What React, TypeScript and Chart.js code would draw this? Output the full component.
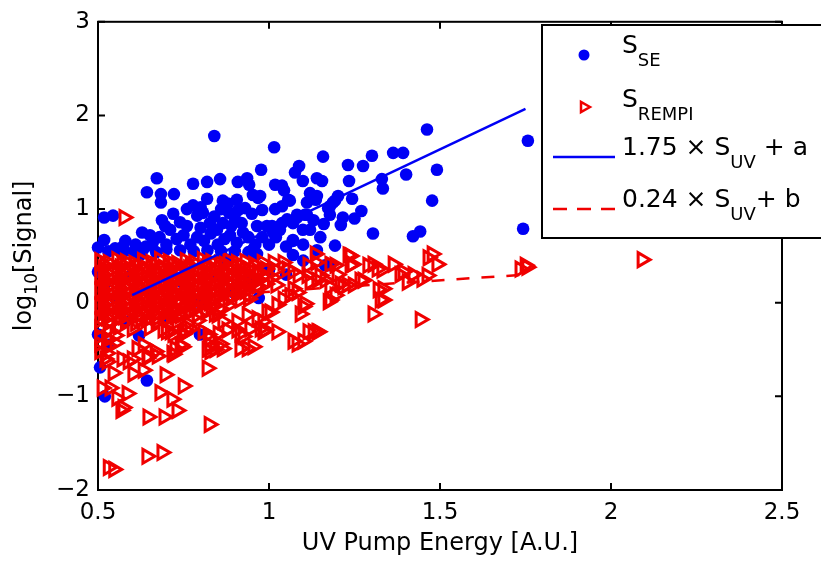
import React, { useEffect, useRef } from 'react';
import { Chart, registerables } from 'chart.js';

Chart.register(...registerables);

const FONT = '"DejaVu Sans", "Liberation Sans", Arial, sans-serif';
const BLUE = '#0000f5';
const RED = '#f00000';

const xTicks = [0.5, 1, 1.5, 2, 2.5];
const yTicks = [-2, -1, 0, 1, 2, 3];
const xTitle = 'UV Pump Energy [A.U.]';

// S_SE measurements (x, log10 signal)
const seData: [number, number][] = [
  [0.84,1.78],[1.015,1.66],[1.158,1.56],[0.977,1.42],[1.076,1.39],[1.088,1.46],[0.672,1.33],[0.778,1.27],[0.819,1.29],[0.857,1.32],
  [0.909,1.29],[0.936,1.33],[0.942,1.26],[0.643,1.18],[0.684,1.16],[0.722,1.16],[0.684,1.07],[0.819,1.11],[0.518,0.91],[0.544,0.93],
  [0.778,1.04],[0.865,1.09],[0.906,1.10],[0.93,1.01],[0.883,0.96],[0.953,1.15],[0.968,1.12],[1.018,1.26],[1.038,1.25],[1.044,1.20],
  [1.099,1.30],[1.14,1.33],[1.155,1.30],[1.12,1.17],[1.14,1.14],[1.018,1.00],[1.056,1.10],[1.038,1.03],[1.082,0.94],[1.111,0.94],
  [1.178,1.03],[1.193,1.09],[0.518,0.67],[0.573,0.60],[0.629,0.75],[0.652,0.72],[0.687,0.88],[0.696,0.82],[0.711,0.78],[0.76,0.82],
  [0.79,0.93],[0.807,0.96],[0.827,0.85],[0.848,0.78],[0.865,0.85],[0.886,0.72],[0.906,0.64],[0.924,0.75],[0.98,0.99],[1.009,0.82],
  [1.038,0.85],[1.07,0.67],[1.099,0.78],[1.12,0.78],[0.953,0.57],[0.965,0.52],[1.193,0.61],[0.602,0.54],[0.623,0.51],[0.877,0.46],
  [0.50,0.33],[1.462,1.85],[1.757,1.73],[1.301,1.57],[1.363,1.60],[1.392,1.60],[1.231,1.47],[1.275,1.46],[1.491,1.42],[1.401,1.37],
  [1.234,1.30],[1.33,1.32],[1.333,1.22],[1.137,1.10],[1.111,1.07],[0.974,1.14],[1.061,1.09],[1.477,1.09],[1.202,1.14],[1.187,1.07],
  [1.173,1.01],[1.178,0.94],[1.243,1.11],[1.216,0.91],[1.105,0.94],[1.304,0.74],[1.421,0.71],[1.442,0.76],[1.743,0.79],[0.965,0.82],
  [0.994,0.82],[1.012,0.75],[1.032,0.78],[1.053,0.89],[1.07,0.85],[1.082,0.91],[1.07,0.66],[1.07,0.51],[1.14,0.56],[1.178,0.40],
  [1.164,0.40],[0.506,-0.69],[0.52,-1.0],[0.643,-0.83],[0.798,-0.34],[0.50,0.59],[0.50,-0.34],
  [0.66,0.64],[0.68,0.70],[0.70,0.62],[0.73,0.68],[0.74,0.86],[0.75,0.72],[0.77,0.62],[0.79,0.70],[0.80,0.80],[0.81,0.66],
  [0.83,0.74],[0.84,0.92],[0.85,0.62],[0.87,0.68],[0.89,0.82],[0.90,0.90],[0.92,0.85],[0.94,0.70],[0.95,0.95],[0.96,0.62],
  [0.98,0.70],[1.00,0.62],[1.02,0.70],[0.72,0.95],[0.76,1.00],[0.80,1.02],[0.86,1.00],[0.88,1.06],[0.91,0.99],[0.58,0.66],
  [0.61,0.62],[0.64,0.60],[0.55,0.58],[0.53,0.55],[0.57,0.52],[0.63,0.56],[0.67,0.54],[0.70,0.57],[0.74,0.56],[0.78,0.55],
  [0.82,0.56],[0.86,0.55],[0.90,0.55],[0.94,0.54],[1.05,0.60],[1.10,0.62],[1.15,0.70],[1.16,0.84],[1.13,0.88],[1.25,0.90],
  [1.27,0.98],[1.21,0.83],[0.52,0.20],[0.55,0.05],[0.58,-0.2],[0.6,0.3],[0.65,0.1],[0.7,-0.15],[0.75,0.2],[0.8,0.0],
  [0.85,0.3],[0.9,0.1],[0.95,0.25],[1.0,0.35],[0.53,-0.45],[0.62,-0.35],[1.05,0.3],[1.1,0.45],[0.97,0.05]
];

// S_REMPI measurements (x, log10 signal)
const rempiData: [number, number][] = [
  [0.505,0.45],[0.53,0.43],[0.555,0.46],[0.58,0.44],[0.605,0.42],[0.63,0.45],[0.655,0.43],[0.68,0.46],[0.705,0.44],[0.73,0.42],
  [0.755,0.45],[0.78,0.43],[0.805,0.46],[0.83,0.44],[0.855,0.42],[0.88,0.45],[0.905,0.43],[0.93,0.44],[0.955,0.41],[0.98,0.43],
  [0.515,0.37],[0.54,0.35],[0.565,0.38],[0.59,0.36],[0.615,0.34],[0.64,0.37],[0.665,0.35],[0.69,0.38],[0.715,0.36],[0.74,0.34],
  [0.765,0.37],[0.79,0.35],[0.815,0.38],[0.84,0.36],[0.865,0.34],[0.89,0.37],[0.915,0.35],[0.94,0.36],[0.965,0.34],[0.99,0.36],[1.02,0.35],
  [0.505,0.29],[0.53,0.27],[0.555,0.30],[0.58,0.28],[0.605,0.26],[0.63,0.29],[0.655,0.27],[0.68,0.30],[0.705,0.28],[0.73,0.26],
  [0.755,0.29],[0.78,0.27],[0.805,0.30],[0.83,0.28],[0.855,0.26],[0.88,0.29],[0.905,0.27],[0.93,0.28],[0.955,0.26],[0.98,0.28],[1.01,0.27],
  [0.515,0.21],[0.54,0.19],[0.565,0.22],[0.59,0.20],[0.615,0.18],[0.64,0.21],[0.665,0.19],[0.69,0.22],[0.715,0.20],[0.74,0.18],
  [0.765,0.21],[0.79,0.19],[0.815,0.22],[0.84,0.20],[0.865,0.18],[0.89,0.21],[0.915,0.19],[0.94,0.20],[0.965,0.18],[0.99,0.20],[1.02,0.19],
  [0.505,0.13],[0.53,0.11],[0.555,0.14],[0.58,0.12],[0.605,0.10],[0.63,0.13],[0.655,0.11],[0.68,0.14],[0.705,0.12],[0.73,0.10],
  [0.755,0.13],[0.78,0.11],[0.805,0.14],[0.83,0.12],[0.855,0.10],[0.88,0.13],[0.905,0.11],[0.93,0.12],[0.955,0.10],
  [0.515,0.05],[0.54,0.03],[0.565,0.06],[0.59,0.04],[0.615,0.02],[0.64,0.05],[0.665,0.03],[0.69,0.06],[0.715,0.04],[0.74,0.02],
  [0.765,0.05],[0.79,0.03],[0.815,0.06],[0.84,0.04],[0.865,0.02],[0.89,0.05],[0.915,0.03],[0.94,0.04],
  [0.505,-0.03],[0.53,-0.05],[0.555,-0.02],[0.58,-0.04],[0.605,-0.06],[0.63,-0.03],[0.655,-0.05],[0.68,-0.02],[0.705,-0.04],[0.73,-0.06],
  [0.755,-0.03],[0.78,-0.05],[0.805,-0.02],[0.83,-0.04],[0.855,-0.06],[0.88,-0.03],
  [0.515,-0.11],[0.54,-0.13],[0.565,-0.10],[0.59,-0.12],[0.615,-0.14],[0.64,-0.11],[0.665,-0.13],[0.69,-0.10],[0.715,-0.12],[0.74,-0.14],
  [0.765,-0.11],[0.79,-0.13],[0.815,-0.10],[0.84,-0.12],
  [0.505,-0.19],[0.53,-0.21],[0.555,-0.18],[0.58,-0.20],[0.61,-0.22],[0.64,-0.19],[0.67,-0.21],[0.70,-0.18],[0.73,-0.20],[0.76,-0.22],[0.79,-0.19],
  [0.505,-0.27],[0.53,-0.29],[0.56,-0.26],[0.60,-0.28],[0.65,-0.27],
  [0.505,-0.36],[0.525,-0.38],[0.55,-0.35],[0.505,-0.44],[0.53,-0.46],[0.55,-0.43],[0.505,-0.52],[0.525,-0.54],
  [0.52,0.40],[0.57,0.41],[0.62,0.39],[0.67,0.40],[0.72,0.41],[0.77,0.39],[0.82,0.40],[0.87,0.41],[0.92,0.39],
  [0.525,0.32],[0.575,0.33],[0.625,0.31],[0.675,0.32],[0.725,0.33],[0.775,0.31],[0.825,0.32],[0.875,0.33],[0.925,0.31],[0.97,0.32],
  [0.52,0.24],[0.57,0.25],[0.62,0.23],[0.67,0.24],[0.72,0.25],[0.77,0.23],[0.82,0.24],[0.87,0.25],[0.92,0.23],[0.97,0.24],
  [0.525,0.16],[0.575,0.17],[0.625,0.15],[0.675,0.16],[0.725,0.17],[0.775,0.15],[0.825,0.16],[0.875,0.17],[0.925,0.15],
  [0.52,0.08],[0.57,0.09],[0.62,0.07],[0.67,0.08],[0.72,0.09],[0.77,0.07],[0.82,0.08],[0.87,0.09],
  [0.525,0.0],[0.575,0.01],[0.625,-0.01],[0.675,0.0],[0.725,0.01],[0.775,-0.01],[0.825,0.0],
  [0.52,-0.08],[0.57,-0.07],[0.62,-0.09],[0.67,-0.08],[0.72,-0.07],[0.77,-0.09],
  [0.525,-0.16],[0.575,-0.15],[0.625,-0.17],[0.675,-0.16],[0.725,-0.15],
  [0.53,-1.76],[0.546,-1.78],[0.643,-1.64],[0.687,-1.60],[0.825,-1.30],[0.646,-1.22],[0.693,-1.22],[0.731,-1.15],[0.567,-1.15],[0.573,-1.12],
  [0.555,-1.02],[0.585,-0.97],[0.512,-0.91],[0.535,-0.91],[0.681,-0.96],[0.716,-1.03],[0.749,-0.89],[0.544,-0.75],[0.602,-0.76],[0.632,-0.72],
  [0.696,-0.77],[0.819,-0.70],[0.526,-0.63],[0.57,-0.60],[0.588,-0.63],[0.643,-0.59],[0.667,-0.52],[0.719,-0.55],[0.725,-0.49],[0.746,-0.47],
  [0.819,-0.50],[0.827,-0.45],[0.857,-0.44],[0.915,-0.49],[0.936,-0.49],[0.953,-0.47],[0.906,-0.29],[0.915,-0.33],[0.944,-0.28],[0.982,-0.31],
  [1.023,-0.31],[0.807,-0.31],[0.827,-0.38],[0.754,-0.29],[0.746,-0.34],[0.69,-0.29],[0.711,-0.31],[1.07,-0.41],[0.614,-0.49],[0.632,-0.45],
  [0.52,-0.60],[0.60,-0.60],[0.646,-0.57],[0.673,-0.57],[0.716,-0.54],[0.74,-0.45],[0.827,-0.52],[0.842,-0.50],[0.863,-0.49],[0.822,-0.34],
  [0.851,-0.33],[0.877,-0.29],[0.924,-0.36],[0.974,-0.28],[0.988,-0.29],[1.082,-0.44],[1.099,-0.41],[1.114,-0.31],[1.143,-0.31],[1.091,-0.12],
  [1.099,-0.04],[1.178,0.03],[1.193,0.08],[1.061,0.08],[1.082,0.11],[1.023,-0.02],[0.994,-0.10],[0.982,-0.20],[0.965,-0.17],[0.906,-0.20],
  [0.936,-0.13],[0.865,-0.20],[0.848,-0.13],[0.749,-0.33],[0.769,-0.28],[0.70,-0.31],[0.719,-0.34],[1.477,0.52],[1.491,0.41],[1.749,0.40],
  [1.734,0.36],[1.304,0.41],[1.33,0.35],[1.363,0.41],[1.392,0.33],[1.421,0.30],[1.404,0.22],[1.462,0.29],[1.447,0.25],[1.333,0.15],
  [1.333,0.03],[1.304,-0.12],[1.442,-0.18],[1.231,0.51],[1.237,0.40],[1.135,0.52],[1.137,0.43],[1.178,0.41],[1.193,0.40],[1.199,0.30],
  [1.275,0.24],[1.246,0.19],[1.216,0.17],[1.173,0.01],[1.105,-0.01],[1.14,-0.31],[1.053,0.36],[1.07,0.33],[1.085,0.29],[1.114,0.40],
  [1.111,0.29],[1.149,0.29],[1.164,0.24],[1.208,0.20],[1.012,0.43],[1.041,0.43],[1.07,0.15],[1.041,0.04],[1.003,-0.10],[1.12,0.22],
  [1.14,0.24],[1.178,0.17],[1.237,0.50],[1.243,0.41],[1.754,0.38],[2.091,0.46],[0.576,0.91],[1.289,0.40],[1.316,0.36],[1.465,0.48],
  [1.383,0.30],[1.266,0.24],[1.319,0.14],[1.325,0.03],[1.129,-0.31],[1.228,0.19]
];

// linear fits
const fitX = [0.6, 1.75];
const seFitY = [0.08, 2.07];
const rempiFitY = [0.02, 0.30];

type Part = { t: string; sub?: boolean };
const legendEntries: Part[][] = [
  [{ t: 'S' }, { t: 'SE', sub: true }],
  [{ t: 'S' }, { t: 'REMPI', sub: true }],
  [{ t: '1.75 \u00d7 S' }, { t: 'UV', sub: true }, { t: ' + a' }],
  [{ t: '0.24 \u00d7 S' }, { t: 'UV', sub: true }, { t: '+ b' }],
];
const yTitleParts: Part[] = [{ t: 'log' }, { t: '10', sub: true }, { t: '[Signal]' }];

function drawRich(ctx: CanvasRenderingContext2D, x: number, y: number, parts: Part[], main: number, sub: number, drop: number) {
  let cx = x;
  for (const p of parts) {
    ctx.font = `${p.sub ? sub : main}px ${FONT}`;
    ctx.fillText(p.t, cx, p.sub ? y + drop : y);
    cx += ctx.measureText(p.t).width;
  }
}
function richWidth(ctx: CanvasRenderingContext2D, parts: Part[], main: number, sub: number) {
  let w = 0;
  for (const p of parts) {
    ctx.font = `${p.sub ? sub : main}px ${FONT}`;
    w += ctx.measureText(p.t).width;
  }
  return w;
}

const framePlugin = {
  id: 'matlabFrame',
  beforeDatasetsDraw(chart: any) {
    const { ctx, chartArea: a, scales } = chart;
    ctx.save();
    ctx.strokeStyle = '#000';
    ctx.lineWidth = 2;
    ctx.strokeRect(a.left, a.top, a.right - a.left, a.bottom - a.top);
    const L = 7;
    ctx.beginPath();
    for (const v of xTicks) {
      const px = scales.x.getPixelForValue(v);
      ctx.moveTo(px, a.bottom); ctx.lineTo(px, a.bottom - L);
      ctx.moveTo(px, a.top); ctx.lineTo(px, a.top + L);
    }
    for (const v of yTicks) {
      const py = scales.y.getPixelForValue(v);
      ctx.moveTo(a.left, py); ctx.lineTo(a.left + L, py);
      ctx.moveTo(a.right, py); ctx.lineTo(a.right - L, py);
    }
    ctx.stroke();
    ctx.restore();
  },
  afterDraw(chart: any) {
    const { ctx, chartArea: a } = chart;
    ctx.save();
    ctx.fillStyle = '#000';
    ctx.textBaseline = 'alphabetic';
    ctx.textAlign = 'left';
    const tw = richWidth(ctx, yTitleParts, 24, 17);
    ctx.translate(31, (a.top + a.bottom) / 2);
    ctx.rotate(-Math.PI / 2);
    drawRich(ctx, -tw / 2, 0, yTitleParts, 24, 17, 6);
    ctx.restore();

    // legend
    ctx.save();
    const lx = 542, ly = 25, lw = 300, lh = 213;
    ctx.fillStyle = '#fff';
    ctx.fillRect(lx, ly, lw, lh);
    ctx.strokeStyle = '#000';
    ctx.lineWidth = 2;
    ctx.strokeRect(lx, ly, lw, lh);
    const mx = 584;
    ctx.fillStyle = BLUE;
    ctx.beginPath();
    ctx.arc(mx, 55, 5.5, 0, Math.PI * 2);
    ctx.fill();
    ctx.strokeStyle = RED;
    ctx.lineWidth = 2.5;
    ctx.beginPath();
    const r = 6;
    ctx.moveTo(mx + r, 107);
    ctx.lineTo(mx - r / 2, 107 - r * 0.866);
    ctx.lineTo(mx - r / 2, 107 + r * 0.866);
    ctx.closePath();
    ctx.stroke();
    ctx.strokeStyle = BLUE;
    ctx.lineWidth = 2.5;
    ctx.beginPath();
    ctx.moveTo(553, 157); ctx.lineTo(615, 157);
    ctx.stroke();
    ctx.strokeStyle = RED;
    ctx.setLineDash([14, 10]);
    ctx.beginPath();
    ctx.moveTo(553, 209); ctx.lineTo(615, 209);
    ctx.stroke();
    ctx.setLineDash([]);
    ctx.fillStyle = '#000';
    ctx.textBaseline = 'alphabetic';
    const baselines = [53, 107, 155, 207];
    legendEntries.forEach((parts, i) => drawRich(ctx, 622, baselines[i], parts, 25, 18, 13));
    ctx.restore();
  },
};

export default function App() {
  const ref = useRef<HTMLCanvasElement | null>(null);
  useEffect(() => {
    if (!ref.current) return;
    const chart = new Chart(ref.current, {
      type: 'scatter',
      data: {
        datasets: [
          {
            label: '1.75 × S_UV + a',
            data: fitX.map((x, i) => ({ x, y: seFitY[i] })),
            showLine: true,
            borderColor: BLUE,
            borderWidth: 2.5,
            pointRadius: 0,
            order: 1,
          },
          {
            label: '0.24 × S_UV + b',
            data: fitX.map((x, i) => ({ x, y: rempiFitY[i] })),
            showLine: true,
            borderColor: RED,
            borderWidth: 2.5,
            borderDash: [13, 12],
            pointRadius: 0,
            order: 2,
          },
          {
            label: 'S_REMPI',
            data: rempiData.map(([x, y]) => ({ x, y })),
            pointStyle: 'triangle',
            rotation: 90,
            pointRadius: 8,
            pointBorderWidth: 3,
            pointBorderColor: RED,
            pointBackgroundColor: 'rgba(0,0,0,0)',
            clip: false,
            order: 3,
          } as any,
          {
            label: 'S_SE',
            data: seData.map(([x, y]) => ({ x, y })),
            pointStyle: 'circle',
            pointRadius: 6.3,
            pointBorderWidth: 0,
            pointBackgroundColor: BLUE,
            clip: false,
            order: 4,
          } as any,
        ],
      },
      options: {
        responsive: false,
        animation: false,
        devicePixelRatio: 1,
        events: [],
        layout: { padding: { top: 17, right: 39, left: 0, bottom: 0 } },
        plugins: { legend: { display: false }, tooltip: { enabled: false } },
        scales: {
          x: {
            type: 'linear',
            min: 0.5,
            max: 2.5,
            grid: { display: false, drawTicks: false },
            border: { display: false },
            ticks: {
              stepSize: 0.5,
              padding: 9,
              color: '#000',
              font: { family: FONT, size: 23 },
              callback: (v: any) => String(v),
            },
            title: {
              display: true,
              text: xTitle,
              color: '#000',
              font: { family: FONT, size: 24 },
              padding: { top: 0, bottom: 3 },
            },
            afterFit: (s: any) => { s.height = 71; },
          },
          y: {
            type: 'linear',
            min: -2,
            max: 3,
            grid: { display: false, drawTicks: false },
            border: { display: false },
            ticks: {
              stepSize: 1,
              padding: 8,
              color: '#000',
              font: { family: FONT, size: 23 },
              callback: (v: any) => (Number(v) < 0 ? '\u2212' + Math.abs(Number(v)) : String(v)),
            },
            afterFit: (s: any) => { s.width = 98; },
          },
        },
      },
      plugins: [framePlugin],
    });
    return () => chart.destroy();
  }, []);
  return (
    <div style={{ position: 'fixed', left: 0, top: 0, width: 821, height: 561, background: '#fff' }}>
      <canvas ref={ref} width={821} height={561} style={{ display: 'block' }} />
    </div>
  );
}
